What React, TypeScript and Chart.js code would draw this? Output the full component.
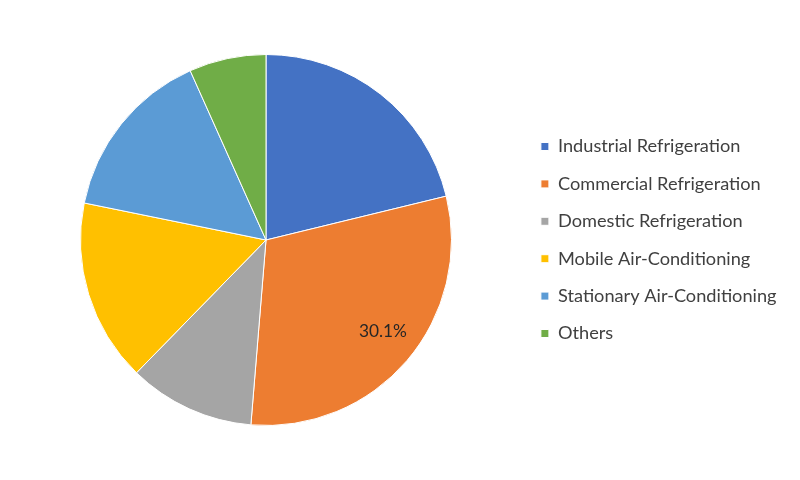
import React, { useEffect, useRef } from "react";
import { Chart, registerables } from "chart.js";

Chart.register(...registerables);

const categories = [
  "Industrial Refrigeration",
  "Commercial Refrigeration",
  "Domestic Refrigeration",
  "Mobile Air-Conditioning",
  "Stationary Air-Conditioning",
  "Others",
];
const shares = [21.2, 30.1, 11.0, 15.9, 15.1, 6.7];
const sliceColors = ["#4472C4", "#ED7D31", "#A5A5A5", "#FFC000", "#5B9BD5", "#70AD47"];
const labelledSlices = ["Commercial Refrigeration"];

const FONT_FAMILY = "Lato, 'Open Sans', sans-serif";
const BOX = 8;

export default function App() {
  const canvasRef = useRef<HTMLCanvasElement | null>(null);

  useEffect(() => {
    document.body.style.margin = "0";
    const canvas = canvasRef.current;
    if (!canvas) return;

    const m = document.createElement("canvas").getContext("2d")!;
    m.font = `20px ${FONT_FAMILY}`;
    const maxText20 = Math.max(...categories.map((c) => m.measureText(c).width));
    const legendFontSize = Math.round((20 * 219) / maxText20 * 10) / 10;
    m.font = `${legendFontSize}px ${FONT_FAMILY}`;
    const maxText = Math.max(...categories.map((c) => m.measureText(c).width));
    m.font = `20px ${FONT_FAMILY}`;
    const lab20 = m.measureText("30.1%").width;
    const labelFontSize = Math.round((20 * 48) / lab20 * 10) / 10;

    const legendPadding = 37.4 - legendFontSize;
    const textStart = 558;
    const legendLeft = textStart - legendFontSize / 2 - BOX - legendPadding;
    const legendWidth = legendPadding + BOX + legendFontSize / 2 + maxText + 10;
    const rightPad = Math.max(0, 800 - legendLeft - legendWidth);
    const leftPad = 2 * 266 - legendLeft;

    const sliceLabelPlugin = {
      id: "sliceLabel",
      afterDatasetsDraw(chart: any) {
        const meta = chart.getDatasetMeta(0);
        const ctx = chart.ctx;
        ctx.save();
        ctx.font = `${labelFontSize}px ${FONT_FAMILY}`;
        ctx.fillStyle = "#262626";
        ctx.textAlign = "center";
        ctx.textBaseline = "middle";
        meta.data.forEach((arc: any, i: number) => {
          if (!labelledSlices.includes(categories[i])) return;
          const { x, y, startAngle, endAngle, outerRadius } = arc.getProps(
            ["x", "y", "startAngle", "endAngle", "outerRadius"],
            true
          );
          const mid = (startAngle + endAngle) / 2 - 0.044;
          const r = outerRadius * 0.8;
          ctx.fillText(`${shares[i].toFixed(1)}%`, x + Math.cos(mid) * r, y + Math.sin(mid) * r);
        });
        ctx.restore();
      },
    };

    const chart = new Chart(canvas, {
      type: "pie",
      data: {
        labels: categories,
        datasets: [
          {
            data: shares,
            backgroundColor: sliceColors,
            borderColor: "#ffffff",
            borderWidth: 1,
          },
        ],
      },
      options: {
        responsive: false,
        animation: false,
        layout: {
          padding: { top: 54, bottom: 54, left: leftPad, right: rightPad },
        },
        plugins: {
          tooltip: { enabled: false },
          legend: {
            position: "right",
            align: "center",
            labels: {
              boxWidth: BOX,
              boxHeight: BOX,
              padding: legendPadding,
              color: "#404040",
              font: { family: FONT_FAMILY, size: legendFontSize },
            },
          },
        },
      },
      plugins: [sliceLabelPlugin],
    });
    return () => chart.destroy();
  }, []);

  return (
    <div style={{ width: 800, height: 480, background: "#ffffff" }}>
      <canvas ref={canvasRef} width={800} height={480} style={{ width: 800, height: 480 }} />
    </div>
  );
}
